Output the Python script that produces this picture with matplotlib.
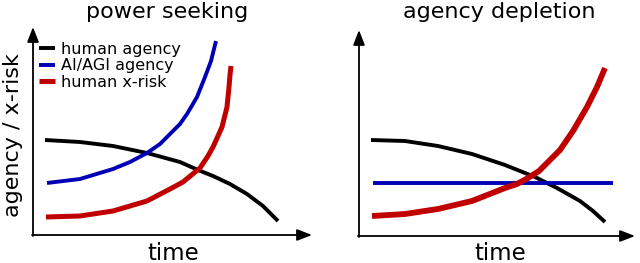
import matplotlib.pyplot as plt

# values, in pixel-like units from each panel's origin
# left panel: "power seeking"
ps_human_t = [12, 47, 80, 114, 147, 165, 180, 197, 214, 230, 245]
ps_human_v = [95, 93, 89, 82, 73, 65, 59, 51, 41, 29, 14]

ps_ai_t = [14, 47, 80, 97, 114, 127, 140, 147, 154, 164, 172, 178, 183]
ps_ai_v = [52, 56, 66, 73, 82, 91, 104, 111, 121, 138, 158, 174, 194]

ps_risk_t = [13, 47, 80, 114, 137, 150, 167, 175, 180, 185, 189, 194, 196, 197, 198]
ps_risk_v = [18, 19, 24, 34, 46, 53, 67, 79, 88, 99, 108, 128, 148, 160, 169]

# right panel: "agency depletion"
ad_human_t = [12, 46, 79, 113, 146, 161, 176, 198, 221, 234, 246]
ad_human_v = [96, 95, 90, 82, 71, 65, 59, 48, 35, 25, 14]

ad_ai_t = [14, 254]
ad_ai_v = [53, 53]

ad_risk_t = [13, 46, 79, 113, 146, 158, 169, 180, 189, 201, 214, 228, 238, 246]
ad_risk_v = [20, 22, 27, 35, 48, 52, 58, 65, 74, 86, 105, 129, 149, 168]

labels = ["human agency", "AI/AGI agency", "human x-risk"]

BLACK = "#000000"
BLUE = "#0000b4"
RED = "#c00000"

W, H = 640, 263
fig = plt.figure(figsize=(6.4, 2.63), dpi=100)


def make_axes(x0, y0, w, h):
    # x0, y0 = origin in image pixels (y from top)
    ax = fig.add_axes([x0 / W, (H - y0) / H, w / W, h / H])
    ax.set_xlim(0, w)
    ax.set_ylim(0, h)
    ax.axis("off")
    return ax


def arrows(ax, xlen, ylen):
    props = dict(arrowstyle="-|>,head_length=0.9,head_width=0.35",
                 color="black", lw=1.3, shrinkA=0, shrinkB=0)
    ax.annotate("", xy=(xlen, 0), xytext=(-1, 0), arrowprops=props)
    ax.annotate("", xy=(0, ylen), xytext=(0, -1), arrowprops=props)


line_kw = dict(solid_capstyle="butt", solid_joinstyle="round")

# left panel
ax1 = make_axes(33, 235, 285, 230)
arrows(ax1, 279, 208)
ax1.plot(ps_human_t, ps_human_v, color=BLACK, lw=2.8, label=labels[0], **line_kw)
ax1.plot(ps_ai_t, ps_ai_v, color=BLUE, lw=2.8, label=labels[1], **line_kw)
ax1.plot(ps_risk_t, ps_risk_v, color=RED, lw=3.6, label=labels[2], **line_kw)
ax1.legend(loc="upper left", bbox_to_anchor=(0.02, 0.84), frameon=False,
           fontsize=11.5, handlelength=1.0, handletextpad=0.4,
           labelspacing=0.1, borderaxespad=0.0, borderpad=0.0)
ax1.text(134, 223, "power seeking", ha="center", va="center", fontsize=16)
ax1.text(140, -18, "time", ha="center", va="center", fontsize=16.5)
ax1.text(-20, 100, "agency / x-risk", ha="center", va="center",
         rotation=90, fontsize=16)

# right panel
ax2 = make_axes(359, 236, 281, 230)
arrows(ax2, 276, 206)
ax2.plot(ad_human_t, ad_human_v, color=BLACK, lw=2.8, **line_kw)
ax2.plot(ad_ai_t, ad_ai_v, color=BLUE, lw=2.8, **line_kw)
ax2.plot(ad_risk_t, ad_risk_v, color=RED, lw=4.2, **line_kw)
ax2.text(140, 224, "agency depletion", ha="center", va="center", fontsize=16)
ax2.text(141, -17, "time", ha="center", va="center", fontsize=16.5)

fig.savefig("out.png", dpi=100)
